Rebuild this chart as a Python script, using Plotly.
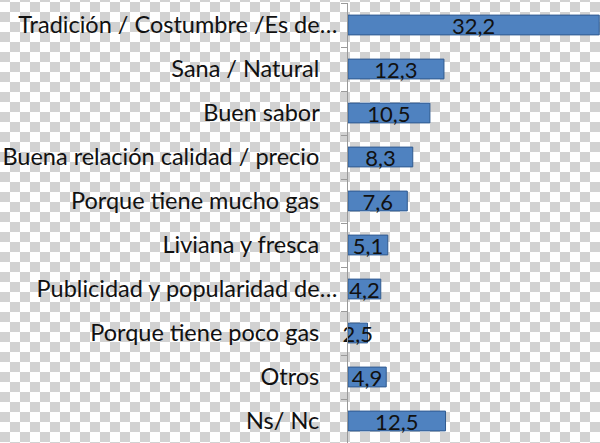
import base64
import plotly.graph_objects as go

categories = [
    "Tradición / Costumbre /Es de…",
    "Sana / Natural",
    "Buen sabor",
    "Buena relación calidad / precio",
    "Porque tiene mucho gas",
    "Liviana y fresca",
    "Publicidad y popularidad de…",
    "Porque tiene poco gas",
    "Otros",
    "Ns/ Nc",
]
values = [32.2, 12.3, 10.5, 8.3, 7.6, 5.1, 4.2, 2.5, 4.9, 12.5]

W, H = 600, 443
L, R, T, B = 348, 0, 3, 0
pw, ph = W - L - R, H - T - B

# transparent-looking checkerboard behind everything
svg = (
    '<svg xmlns="http://www.w3.org/2000/svg" width="600" height="443">'
    '<defs><pattern id="c" x="0" y="2" width="20" height="20" patternUnits="userSpaceOnUse">'
    '<rect width="20" height="20" fill="#ffffff"/>'
    '<rect x="10" width="10" height="10" fill="#d2d2d2"/>'
    '<rect y="10" width="10" height="10" fill="#d2d2d2"/>'
    '</pattern></defs><rect width="600" height="443" fill="url(#c)"/></svg>'
)
checker = "data:image/svg+xml;base64," + base64.b64encode(svg.encode()).decode()

# labels without ellipsis sit a bit further from the axis
ticktext = [c if c.endswith("…") else c + "\u00a0\u00a0\u00a0" for c in categories]

fig = go.Figure(go.Bar(
    x=values, y=categories, orientation="h",
    marker=dict(color="#4f82c0", line=dict(color="#2f5a8f", width=1)),
    texttemplate="%{x:.1f}", textposition="inside", insidetextanchor="middle",
    textangle=0,
    textfont=dict(family="Lato", size=22, color="#111111"),
    cliponaxis=False,
))

fig.update_layout(
    width=W, height=H,
    margin=dict(l=L, r=R, t=T, b=B, autoexpand=False),
    paper_bgcolor="#ffffff", plot_bgcolor="rgba(0,0,0,0)",
    separators=",.",
    bargap=0.55,
    showlegend=False,
    uniformtext=dict(minsize=22, mode="show"),
    font=dict(family="Lato", size=23.5, color="#111111"),
    images=[dict(source=checker, xref="paper", yref="paper",
                 x=-L / pw, y=1 + T / ph, sizex=W / pw, sizey=H / ph,
                 xanchor="left", yanchor="top", sizing="stretch", layer="below")],
)
fig.update_xaxes(range=[0, 32.3], visible=False, automargin=False)
fig.update_yaxes(
    autorange="reversed", tickvals=categories, ticktext=ticktext,
    automargin=False, ticklabelstandoff=5,
    showline=True, linecolor="#9a9a9a", linewidth=1,
    ticks="outside", tickson="boundaries", ticklen=6, tickcolor="#9a9a9a",
    showgrid=False,
)

fig.write_html("out.html", config={"displayModeBar": False},
               post_script="document.body.style.margin='0';")
